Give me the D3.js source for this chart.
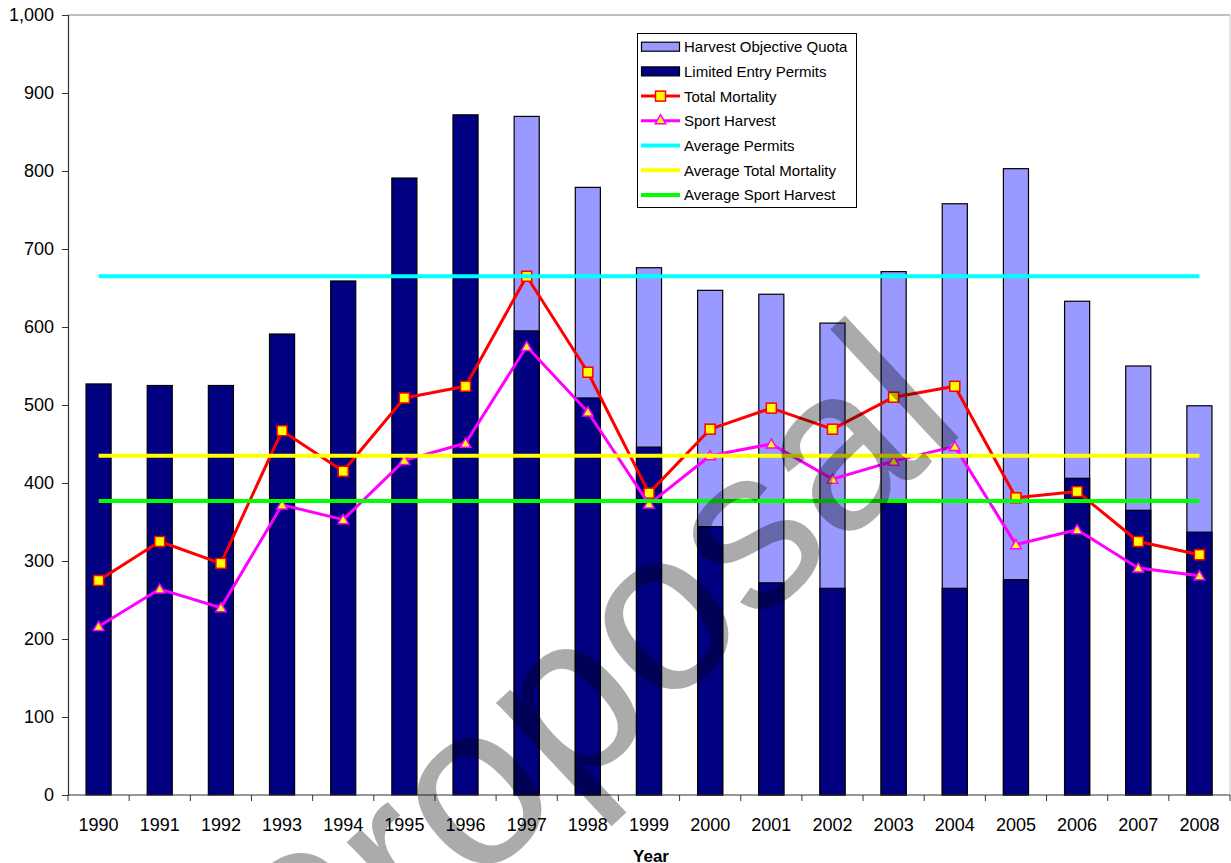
<!DOCTYPE html>
<html>
<head>
<meta charset="utf-8">
<script src="https://cdn.jsdelivr.net/npm/d3@7/dist/d3.min.js"></script>
<style>
  html, body { margin: 0; padding: 0; background: #ffffff; }
  svg { display: block; font-family: "Liberation Sans", Arial, sans-serif; }
</style>
</head>
<body>
<svg id="chart" width="1231" height="863"></svg>
<script>
// ---------- data ----------
const years = ["1990","1991","1992","1993","1994","1995","1996","1997","1998","1999",
               "2000","2001","2002","2003","2004","2005","2006","2007","2008"];
const harvestObjectiveQuota = [null,null,null,null,null,null,null,870,779,676,
                               647,642,605,671,758,803,633,550,499];
const limitedEntryPermits = [527,525,525,591,659,791,872,595,509,446,
                             344,272,265,374,265,276,406,365,337];
const totalMortality = [275,325,297,467,415,509,524,665,542,387,
                        469,496,469,510,524,381,389,325,308];
const sportHarvest = [216,264,240,372,353,429,451,575,491,373,
                      435,450,405,428,447,321,340,291,281];
const averageNames = ["Average Permits","Average Total Mortality","Average Sport Harvest"];
const averageValues = [665, 435, 377];
const yTickValues = [0,100,200,300,400,500,600,700,800,900,1000];
const legendNames = ["Harvest Objective Quota","Limited Entry Permits","Total Mortality",
                     "Sport Harvest","Average Permits","Average Total Mortality","Average Sport Harvest"];

// ---------- layout ----------
const plotL = 68, plotR = 1230, plotT = 15, plotB = 795;
const svg = d3.select("#chart");

const x = d3.scaleBand().domain(years).range([plotL, plotR]).paddingInner(0.59).paddingOuter(0.295);
const y = d3.scaleLinear().domain([0, 1000]).range([plotB, plotT]);
const cx = d => x(d) + x.bandwidth() / 2;
const gap = (x.step() - x.bandwidth()) / 2;

const colors = {
  quota: "#9999ff", permits: "#000080", mortality: "#ff0000", sport: "#ff00ff",
  avg: ["#00ffff", "#ffff00", "#00ff00"], marker: "#ffff00"
};

// plot area border (top & right)
svg.append("line").attr("x1", plotL).attr("x2", plotR).attr("y1", plotT).attr("y2", plotT)
  .attr("stroke", "#808080").attr("stroke-width", 1);
svg.append("line").attr("x1", plotR).attr("x2", plotR).attr("y1", plotT).attr("y2", plotB)
  .attr("stroke", "#c8c8c8").attr("stroke-width", 1);

// ---------- bars ----------
const quotaData = years.map((yr, i) => ({ yr, v: harvestObjectiveQuota[i] })).filter(d => d.v != null);
svg.append("g").selectAll("rect").data(quotaData).join("rect")
  .attr("x", d => x(d.yr)).attr("width", x.bandwidth())
  .attr("y", d => y(d.v)).attr("height", d => y(0) - y(d.v))
  .attr("fill", colors.quota).attr("stroke", "#000").attr("stroke-width", 1.2);

const permitData = years.map((yr, i) => ({ yr, v: limitedEntryPermits[i] }));
svg.append("g").selectAll("rect").data(permitData).join("rect")
  .attr("x", d => x(d.yr)).attr("width", x.bandwidth())
  .attr("y", d => y(d.v)).attr("height", d => y(0) - y(d.v))
  .attr("fill", colors.permits).attr("stroke", "#000").attr("stroke-width", 1.2);

// ---------- axes ----------
const yAxis = svg.append("g").attr("transform", `translate(${plotL},0)`)
  .call(d3.axisLeft(y).tickValues(yTickValues).tickFormat(d3.format(",")).tickSize(6).tickPadding(8));
yAxis.select(".domain").attr("stroke", "#333").attr("stroke-width", 1.2);
yAxis.selectAll(".tick line").attr("stroke", "#333");
yAxis.selectAll("text").attr("font-size", 18).attr("fill", "#000")
  .attr("font-family", "'Liberation Sans', Arial, sans-serif");

const xAxis = svg.append("g").attr("transform", `translate(0,${plotB})`)
  .call(d3.axisBottom(x).tickSize(0).tickPadding(23));
xAxis.select(".domain").remove();
xAxis.selectAll("text").attr("font-size", 18).attr("fill", "#000")
  .attr("font-family", "'Liberation Sans', Arial, sans-serif");
svg.append("line").attr("x1", plotL).attr("x2", plotR).attr("y1", plotB).attr("y2", plotB)
  .attr("stroke", "#333").attr("stroke-width", 1.2);
// category boundary ticks
const boundaries = years.map(yr => x(yr) - gap).concat([x(years[years.length - 1]) + x.bandwidth() + gap]);
svg.append("g").selectAll("line").data(boundaries).join("line")
  .attr("x1", d => d).attr("x2", d => d).attr("y1", plotB).attr("y2", plotB + 6)
  .attr("stroke", "#333").attr("stroke-width", 1);

svg.append("text").attr("x", 651).attr("y", 862).attr("text-anchor", "middle")
  .attr("font-size", 17).attr("font-weight", "bold").text("Year");

// ---------- lines ----------
const line = d3.line().x(d => cx(d.yr)).y(d => y(d.v));
const mortData = years.map((yr, i) => ({ yr, v: totalMortality[i] }));
const sportData = years.map((yr, i) => ({ yr, v: sportHarvest[i] }));

svg.append("path").datum(mortData).attr("d", line).attr("fill", "none")
  .attr("stroke", colors.mortality).attr("stroke-width", 3).attr("stroke-linejoin", "round");
svg.append("g").selectAll("rect").data(mortData).join("rect")
  .attr("x", d => cx(d.yr) - 5).attr("y", d => y(d.v) - 5).attr("width", 10).attr("height", 10)
  .attr("fill", colors.marker).attr("stroke", colors.mortality).attr("stroke-width", 1.5);

svg.append("path").datum(sportData).attr("d", line).attr("fill", "none")
  .attr("stroke", colors.sport).attr("stroke-width", 3).attr("stroke-linejoin", "round");
const tri = d3.symbol().type(d3.symbolTriangle).size(48);
svg.append("g").selectAll("path").data(sportData).join("path")
  .attr("d", tri).attr("transform", d => `translate(${cx(d.yr)},${y(d.v) + 1})`)
  .attr("fill", colors.marker).attr("stroke", colors.sport).attr("stroke-width", 1.5);

// averages
averageValues.forEach((v, i) => {
  svg.append("line")
    .attr("x1", cx(years[0])).attr("x2", cx(years[years.length - 1]))
    .attr("y1", y(v)).attr("y2", y(v))
    .attr("stroke", colors.avg[i]).attr("stroke-width", 4);
});

// ---------- legend ----------
const lg = svg.append("g");
lg.append("rect").attr("x", 637.5).attr("y", 33.5).attr("width", 219).attr("height", 174)
  .attr("fill", "#fff").attr("stroke", "#000").attr("stroke-width", 1);
legendNames.forEach((name, i) => {
  const cy = 46.7 + i * 24.7;
  const g = lg.append("g");
  if (i === 0 || i === 1) {
    g.append("rect").attr("x", 641.5).attr("y", cy - 4.5).attr("width", 38).attr("height", 9)
      .attr("fill", i === 0 ? colors.quota : colors.permits).attr("stroke", "#000").attr("stroke-width", 1.2);
  } else if (i === 2) {
    g.append("line").attr("x1", 641).attr("x2", 680).attr("y1", cy).attr("y2", cy)
      .attr("stroke", colors.mortality).attr("stroke-width", 3);
    g.append("rect").attr("x", 655.5).attr("y", cy - 5).attr("width", 10).attr("height", 10)
      .attr("fill", colors.marker).attr("stroke", colors.mortality).attr("stroke-width", 1.5);
  } else if (i === 3) {
    g.append("line").attr("x1", 641).attr("x2", 680).attr("y1", cy).attr("y2", cy)
      .attr("stroke", colors.sport).attr("stroke-width", 3);
    g.append("path").attr("d", tri).attr("transform", `translate(660.5,${cy})`)
      .attr("fill", colors.marker).attr("stroke", colors.sport).attr("stroke-width", 1.5);
  } else {
    g.append("line").attr("x1", 641).attr("x2", 680).attr("y1", cy).attr("y2", cy)
      .attr("stroke", colors.avg[i - 4]).attr("stroke-width", 4);
  }
  g.append("text").attr("x", 684).attr("y", cy).attr("dy", "0.36em")
    .attr("font-size", 15).attr("fill", "#000").text(name);
});

// ---------- watermark ----------
svg.append("text")
  .attr("transform", "translate(306,1046) rotate(-43)")
  .attr("font-size", 230).attr("fill", "#000").attr("fill-opacity", 0.33)
  .attr("font-family", "'Liberation Sans', Arial, sans-serif")
  .text("Proposal");
</script>
</body>
</html>
